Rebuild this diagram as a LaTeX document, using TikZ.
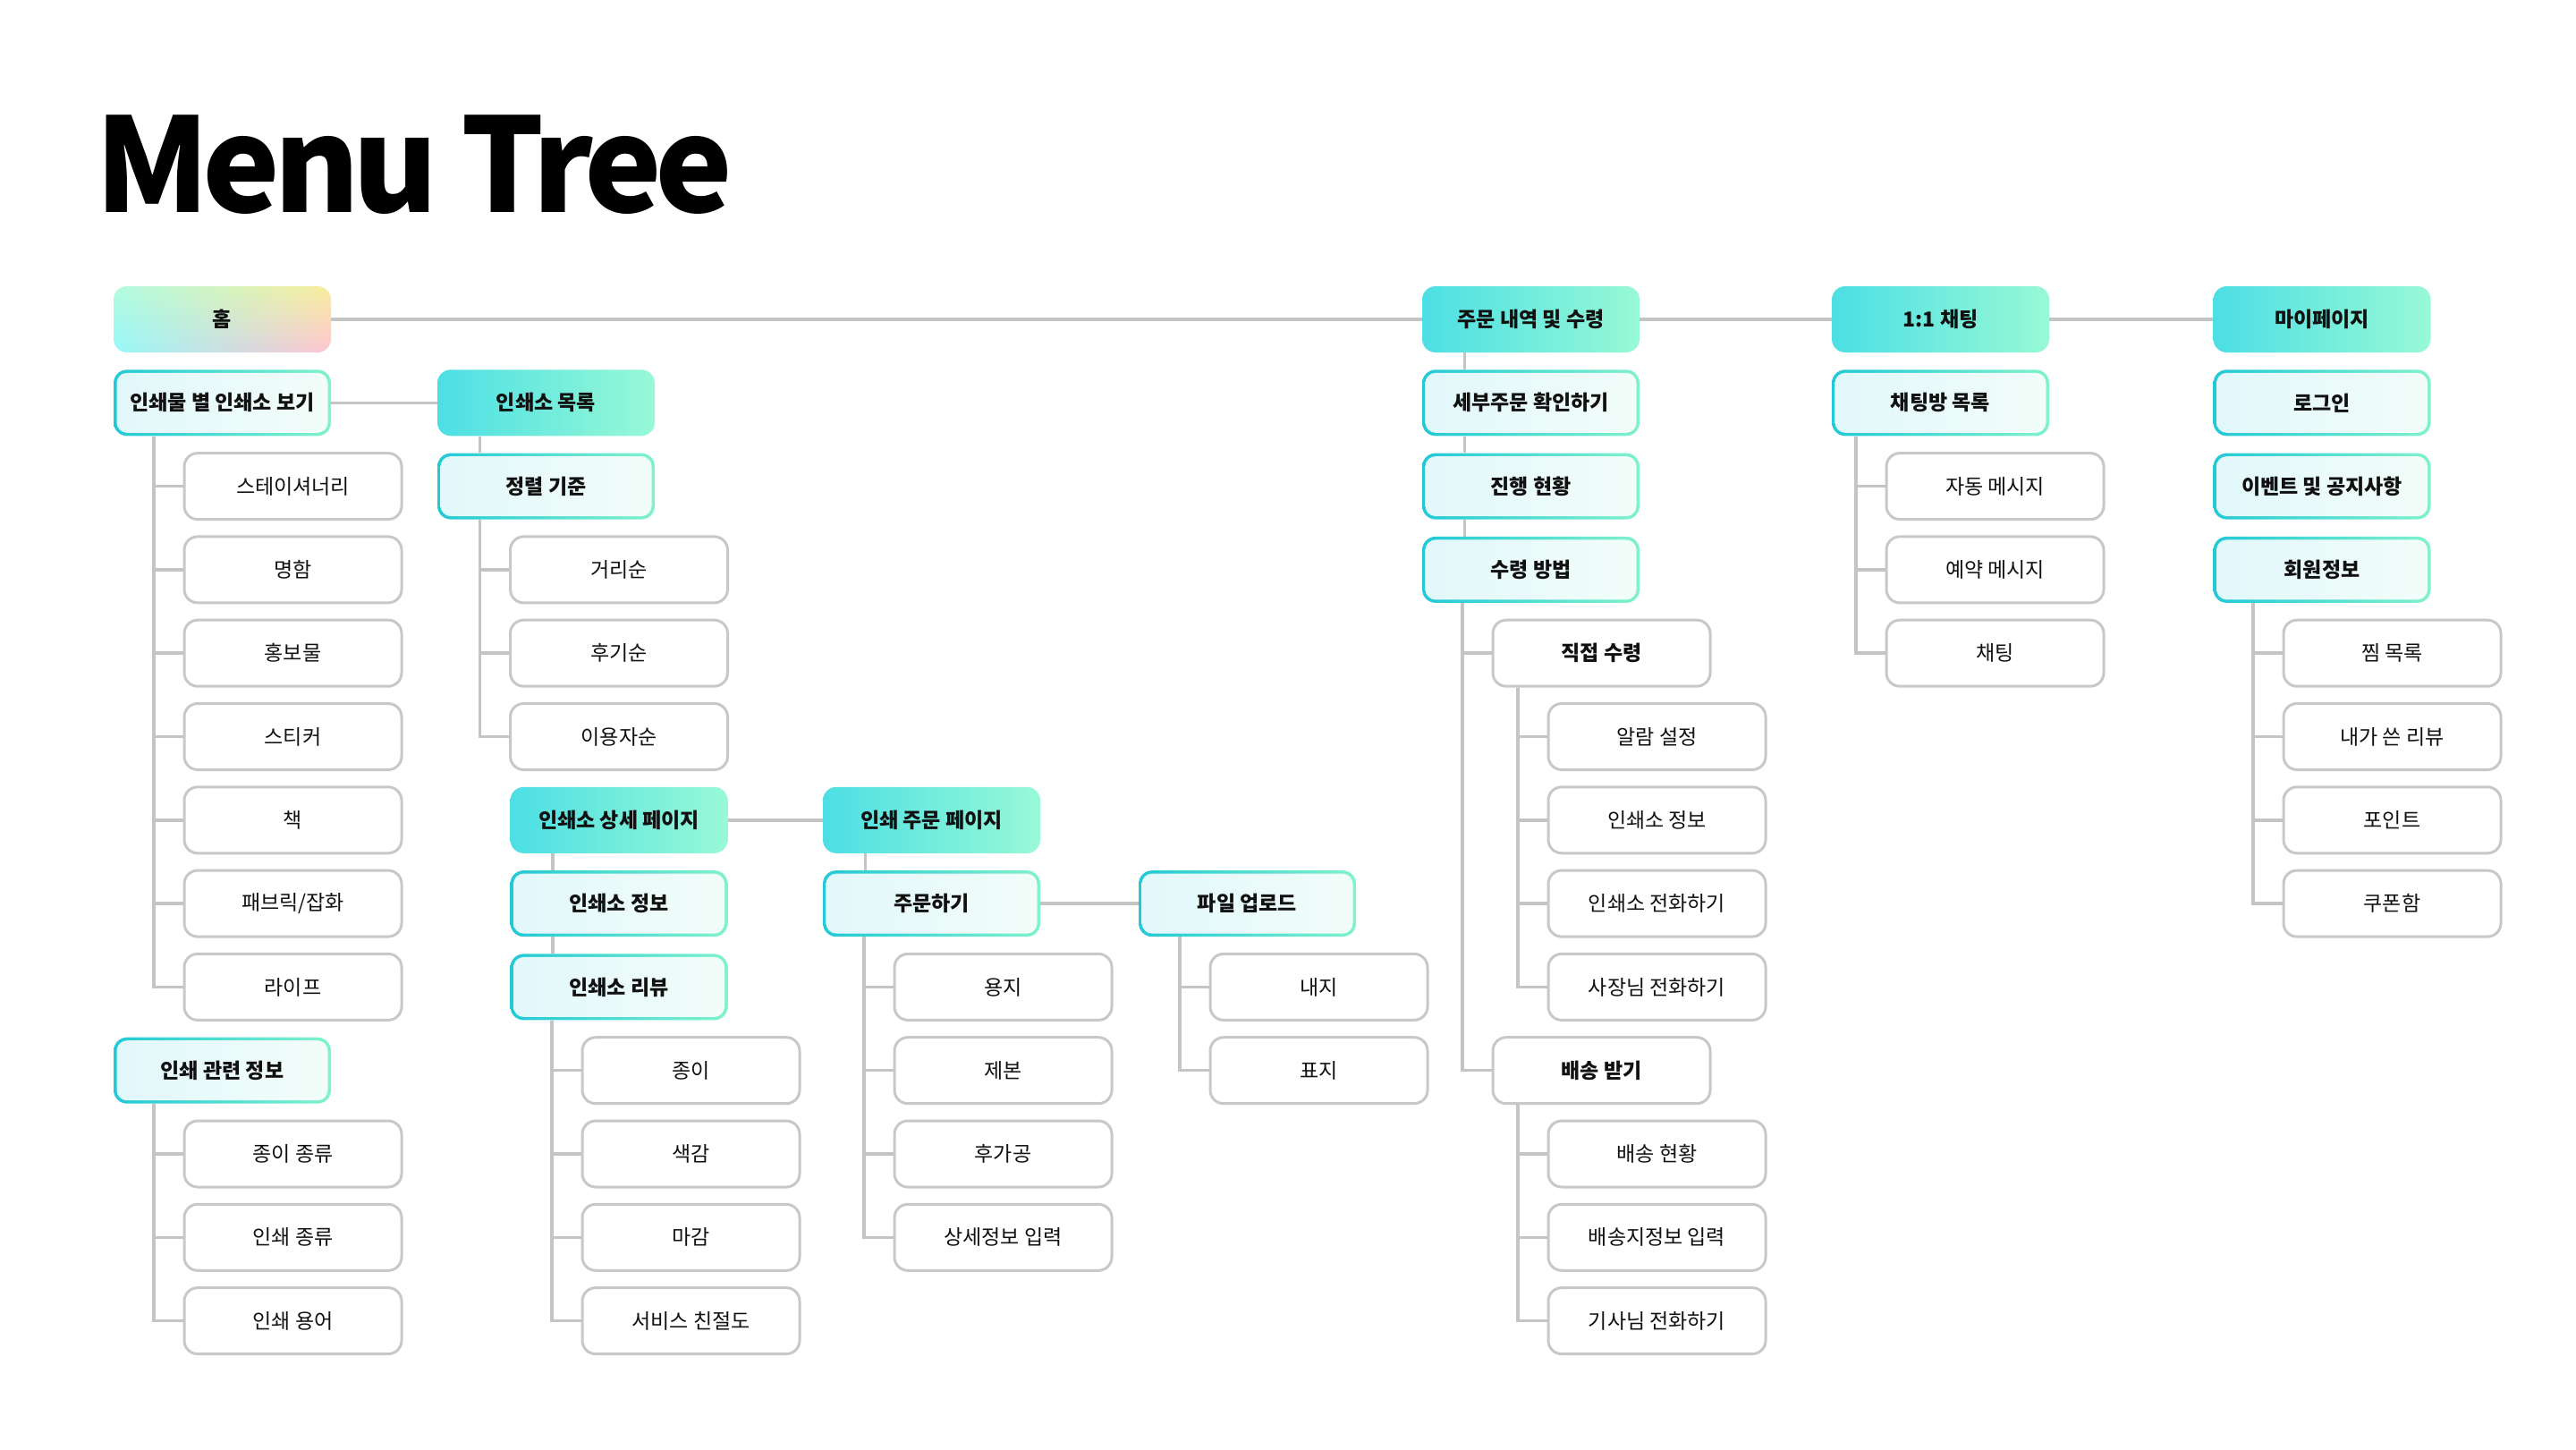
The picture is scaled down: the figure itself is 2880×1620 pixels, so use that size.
\documentclass[tikz,border=0pt]{standalone}
\usepackage{fontspec}
\setmainfont{Noto Sans CJK KR}
\newfontfamily\titlefont[LetterSpace=-5.2]{Noto Sans CJK KR}
\usetikzlibrary{shadings}
\definecolor{hcA}{HTML}{4CDFE4}
\definecolor{hcB}{HTML}{98F9D5}
\definecolor{sbA}{HTML}{22C9D6}
\definecolor{sbB}{HTML}{80F2CC}
\definecolor{sfA}{HTML}{E2F8FA}
\definecolor{sfB}{HTML}{F2FDF9}
\definecolor{leafc}{HTML}{C8C8C8}
\definecolor{linec}{HTML}{C4C4C4}
\definecolor{txt}{HTML}{111111}
\definecolor{hmUL}{HTML}{B2FAE0}
\definecolor{hmUR}{HTML}{F8EE9E}
\definecolor{hmLL}{HTML}{98F8F8}
\definecolor{hmLR}{HTML}{FFC4D0}
\newcommand\rowy[1]{-357-93.3*#1}
\newcommand\nreg{\fontsize{23}{27}\selectfont}
\newcommand\nbold{\fontsize{23}{27}\selectfont\bfseries}
\tikzset{
  box/.style={minimum width=243pt, minimum height=74pt, rounded corners=15pt, inner sep=0pt, text=txt},
  leaf/.style={box, draw=leafc, line width=3pt, fill=white, font=\nreg},
  bleaf/.style={leaf, font=\nbold},
  head/.style={box, left color=hcA, right color=hcB, font=\nbold},
  sub/.style={box, font=\nbold, path picture={
      \shade[left color=sbA, right color=sbB] (path picture bounding box.south west) rectangle (path picture bounding box.north east);
      \shade[left color=sfA, right color=sfB, rounded corners=11.5pt] ([shift={(3.5pt,3.5pt)}]path picture bounding box.south west) rectangle ([shift={(-3.5pt,-3.5pt)}]path picture bounding box.north east);
  }},
  homebox/.style={box, font=\nbold, path picture={
      \shade[upper left=hmUL, upper right=hmUR, lower left=hmLL, lower right=hmLR] (path picture bounding box.south west) rectangle (path picture bounding box.north east);
  }},
  conn/.style={draw=linec, line width=3.5pt},
}
\begin{document}
\begin{tikzpicture}[x=1pt,y=1pt]
\fill[white] (0,0) rectangle (2880,-1620);
\useasboundingbox (0,0) rectangle (2880,-1620);
\def\cA{248.5}\def\cAc{327.5}\def\cB{610.5}\def\cBc{692}\def\cC{772.5}
\def\cD{1041.5}\def\cDc{1121.5}\def\cE{1394.5}\def\cEc{1474.5}
\def\cF{1711.5}\def\cFc{1790.5}\def\cFg{1852.5}\def\cG{2169.5}\def\cGc{2230.5}
\def\cH{2596}\def\cHc{2674.5}
% title
\node[anchor=base west, inner sep=0pt, font=\titlefont\fontsize{146}{146}\selectfont\bfseries] (title) at (106,-237) {Menu Tree};
% row 0
\node[homebox] (home) at (\cA,{\rowy{0}}) {홈};
\node[head] (ord) at (\cF,{\rowy{0}}) {주문 내역 및 수령};
\node[head] (chat) at (\cG,{\rowy{0}}) {1:1 채팅};
\node[head] (my) at (\cH,{\rowy{0}}) {마이페이지};
% row 1
\node[sub] (byp) at (\cA,{\rowy{1}}) {인쇄물 별 인쇄소 보기};
\node[head] (plist) at (\cB,{\rowy{1}}) {인쇄소 목록};
\node[sub] (detail) at (\cF,{\rowy{1}}) {세부주문 확인하기};
\node[sub] (room) at (\cG,{\rowy{1}}) {채팅방 목록};
\node[sub] (login) at (\cH,{\rowy{1}}) {로그인};
% row 2
\node[leaf] (a1) at (\cAc,{\rowy{2}}) {스테이셔너리};
\node[sub] (sort) at (\cB,{\rowy{2}}) {정렬 기준};
\node[sub] (prog) at (\cF,{\rowy{2}}) {진행 현황};
\node[leaf] (g1) at (\cGc,{\rowy{2}}) {자동 메시지};
\node[sub] (event) at (\cH,{\rowy{2}}) {이벤트 및 공지사항};
% row 3
\node[leaf] (a2) at (\cAc,{\rowy{3}}) {명함};
\node[leaf] (s1) at (\cBc,{\rowy{3}}) {거리순};
\node[sub] (recv) at (\cF,{\rowy{3}}) {수령 방법};
\node[leaf] (g2) at (\cGc,{\rowy{3}}) {예약 메시지};
\node[sub] (member) at (\cH,{\rowy{3}}) {회원정보};
% row 4
\node[leaf] (a3) at (\cAc,{\rowy{4}}) {홍보물};
\node[leaf] (s2) at (\cBc,{\rowy{4}}) {후기순};
\node[bleaf] (direct) at (\cFc,{\rowy{4}}) {직접 수령};
\node[leaf] (g3) at (\cGc,{\rowy{4}}) {채팅};
\node[leaf] (h1) at (\cHc,{\rowy{4}}) {찜 목록};
% row 5
\node[leaf] (a4) at (\cAc,{\rowy{5}}) {스티커};
\node[leaf] (s3) at (\cBc,{\rowy{5}}) {이용자순};
\node[leaf] (d1) at (\cFg,{\rowy{5}}) {알람 설정};
\node[leaf] (h2) at (\cHc,{\rowy{5}}) {내가 쓴 리뷰};
% row 6
\node[leaf] (a5) at (\cAc,{\rowy{6}}) {책};
\node[head] (pdet) at (\cBc,{\rowy{6}}) {인쇄소 상세 페이지};
\node[head] (pord) at (\cD,{\rowy{6}}) {인쇄 주문 페이지};
\node[leaf] (d2) at (\cFg,{\rowy{6}}) {인쇄소 정보};
\node[leaf] (h3) at (\cHc,{\rowy{6}}) {포인트};
% row 7
\node[leaf] (a6) at (\cAc,{\rowy{7}}) {패브릭/잡화};
\node[sub] (pinfo) at (\cBc,{\rowy{7}}) {인쇄소 정보};
\node[sub] (order) at (\cD,{\rowy{7}}) {주문하기};
\node[sub] (upload) at (\cE,{\rowy{7}}) {파일 업로드};
\node[leaf] (d3) at (\cFg,{\rowy{7}}) {인쇄소 전화하기};
\node[leaf] (h4) at (\cHc,{\rowy{7}}) {쿠폰함};
% row 8
\node[leaf] (a7) at (\cAc,{\rowy{8}}) {라이프};
\node[sub] (prev) at (\cBc,{\rowy{8}}) {인쇄소 리뷰};
\node[leaf] (o1) at (\cDc,{\rowy{8}}) {용지};
\node[leaf] (u1) at (\cEc,{\rowy{8}}) {내지};
\node[leaf] (d4) at (\cFg,{\rowy{8}}) {사장님 전화하기};
% row 9
\node[sub] (pinfo2) at (\cA,{\rowy{9}}) {인쇄 관련 정보};
\node[leaf] (r1) at (\cC,{\rowy{9}}) {종이};
\node[leaf] (o2) at (\cDc,{\rowy{9}}) {제본};
\node[leaf] (u2) at (\cEc,{\rowy{9}}) {표지};
\node[bleaf] (ship) at (\cFc,{\rowy{9}}) {배송 받기};
% row 10
\node[leaf] (i1) at (\cAc,{\rowy{10}}) {종이 종류};
\node[leaf] (r2) at (\cC,{\rowy{10}}) {색감};
\node[leaf] (o3) at (\cDc,{\rowy{10}}) {후가공};
\node[leaf] (e1) at (\cFg,{\rowy{10}}) {배송 현황};
% row 11
\node[leaf] (i2) at (\cAc,{\rowy{11}}) {인쇄 종류};
\node[leaf] (r3) at (\cC,{\rowy{11}}) {마감};
\node[leaf] (o4) at (\cDc,{\rowy{11}}) {상세정보 입력};
\node[leaf] (e2) at (\cFg,{\rowy{11}}) {배송지정보 입력};
% row 12
\node[leaf] (i3) at (\cAc,{\rowy{12}}) {인쇄 용어};
\node[leaf] (r4) at (\cC,{\rowy{12}}) {서비스 친절도};
\node[leaf] (e3) at (\cFg,{\rowy{12}}) {기사님 전화하기};
% connectors: horizontal
\foreach \p/\c in {home/ord, ord/chat, chat/my, byp/plist, pdet/pord, order/upload}
  \draw[conn] (\p.east) -- (\c.west);
% connectors: stacked
\foreach \p/\c in {plist/sort, pdet/pinfo, pinfo/prev, pord/order, ord/detail, detail/prog, prog/recv}
  \draw[conn] ([xshift=47.5pt]\p.south west) -- ([xshift=47.5pt]\c.north west);
% connectors: trees
\foreach \p/\c in {byp/a1, byp/a2, byp/a3, byp/a4, byp/a5, byp/a6, byp/a7,
                   pinfo2/i1, pinfo2/i2, pinfo2/i3,
                   sort/s1, sort/s2, sort/s3,
                   prev/r1, prev/r2, prev/r3, prev/r4,
                   order/o1, order/o2, order/o3, order/o4,
                   upload/u1, upload/u2,
                   recv/direct, recv/ship,
                   direct/d1, direct/d2, direct/d3, direct/d4,
                   ship/e1, ship/e2, ship/e3,
                   room/g1, room/g2, room/g3,
                   member/h1, member/h2, member/h3, member/h4}
  \draw[conn] (\p.south -| \c.west) ++(-32.5,0) |- (\c.west);
\end{tikzpicture}
\end{document}
